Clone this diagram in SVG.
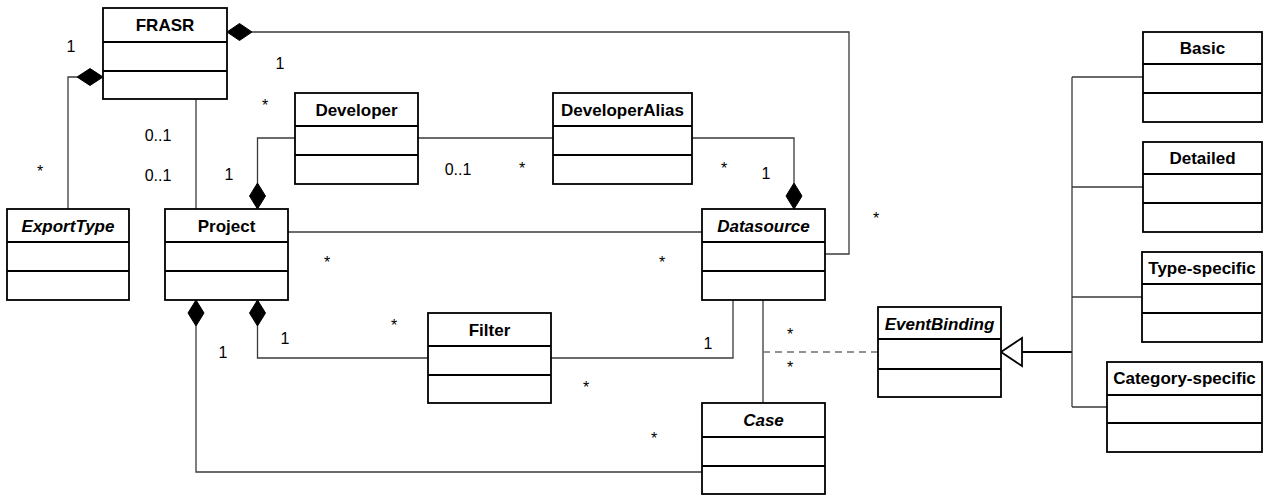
<svg xmlns="http://www.w3.org/2000/svg" width="1263" height="495" viewBox="0 0 1263 495">
<style>
.box{fill:#fff;stroke:#000;stroke-width:1.8}
.div{stroke:#000;stroke-width:1.8}
.t{font-family:"Liberation Sans",Arial,sans-serif;font-size:17px;font-weight:bold;text-anchor:middle;fill:#000}
.i{font-style:italic}
.c{fill:none;stroke:#3a3a3a;stroke-width:1.3}
.d{fill:none;stroke:#707070;stroke-width:1.5;stroke-dasharray:7,5}
.g{fill:none;stroke:#000;stroke-width:2}
.dia{fill:#000;stroke:#000;stroke-width:1}
.m{font-family:"Liberation Sans",Arial,sans-serif;font-size:16px;text-anchor:middle;fill:#000}
</style>
<rect width="1263" height="495" fill="#fff"/>
<g id="connectors">
<path class="c" d="M252,32 H849 V254 H825"/>
<path class="c" d="M77,77 H68 V209"/>
<path class="c" d="M196,99 V209"/>
<path class="c" d="M257.5,183 V138 H295"/>
<path class="c" d="M418,138 H553"/>
<path class="c" d="M692,138 H794 V183"/>
<path class="c" d="M288,232 H702"/>
<path class="c" d="M196,326 V472 H702"/>
<path class="c" d="M257.5,326 V358 H428"/>
<path class="c" d="M551,358 H733 V300"/>
<path class="c" d="M763,300 V403"/>
<path class="d" d="M763,352 H878"/>
<path class="g" d="M1022,352 H1072"/>
<path class="c" d="M1072,77 V407 M1072,77 H1143 M1072,187 H1143 M1072,297 H1142 M1072,407 H1107"/>
<polygon fill="#fff" stroke="#000" stroke-width="1.8" points="1001,352 1022,338 1022,366"/>
<polygon class="dia" points="227,32 239.5,23.5 252,32 239.5,40.5"/>
<polygon class="dia" points="103,77 90,68.5 77,77 90,85.5"/>
<polygon class="dia" points="257.5,209 249.5,196 257.5,183 265.5,196"/>
<polygon class="dia" points="794,209 786,196 794,183 802,196"/>
<polygon class="dia" points="196,300 188,313 196,326 204,313"/>
<polygon class="dia" points="257.5,300 249.5,313 257.5,326 265.5,313"/>
</g>
<g id="labels">
<text class="m" x="71" y="52">1</text>
<text class="m" x="280" y="69">1</text>
<text class="m" x="265" y="111">*</text>
<text class="m" x="158" y="141">0..1</text>
<text class="m" x="158" y="181">0..1</text>
<text class="m" x="40" y="177">*</text>
<text class="m" x="229" y="180">1</text>
<text class="m" x="458" y="175">0..1</text>
<text class="m" x="522" y="174">*</text>
<text class="m" x="724" y="174">*</text>
<text class="m" x="766" y="179">1</text>
<text class="m" x="876" y="224">*</text>
<text class="m" x="327" y="268">*</text>
<text class="m" x="662" y="268">*</text>
<text class="m" x="394" y="331">*</text>
<text class="m" x="285" y="344">1</text>
<text class="m" x="223" y="358">1</text>
<text class="m" x="708" y="349">1</text>
<text class="m" x="790" y="340">*</text>
<text class="m" x="790" y="373">*</text>
<text class="m" x="586" y="393">*</text>
<text class="m" x="654" y="444">*</text>
</g>
<g id="FRASR"><rect class="box" x="103" y="8" width="124" height="91"/><path class="div" d="M103,42 H227 M103,71 H227"/><text class="t" x="165" y="31">FRASR</text></g>
<g id="ExportType"><rect class="box" x="7" y="209" width="122" height="91"/><path class="div" d="M7,242 H129 M7,271 H129"/><text class="t i" x="68" y="232">ExportType</text></g>
<g id="Project"><rect class="box" x="165" y="209" width="123" height="91"/><path class="div" d="M165,242 H288 M165,271 H288"/><text class="t" x="226.5" y="232">Project</text></g>
<g id="Developer"><rect class="box" x="295" y="93" width="123" height="91"/><path class="div" d="M295,126 H418 M295,155 H418"/><text class="t" x="356.5" y="116">Developer</text></g>
<g id="DeveloperAlias"><rect class="box" x="553" y="93" width="139" height="91"/><path class="div" d="M553,126 H692 M553,155 H692"/><text class="t" x="622.5" y="116">DeveloperAlias</text></g>
<g id="Datasource"><rect class="box" x="702" y="209" width="123" height="91"/><path class="div" d="M702,242 H825 M702,271 H825"/><text class="t i" x="763.5" y="232">Datasource</text></g>
<g id="Filter"><rect class="box" x="428" y="313" width="123" height="90"/><path class="div" d="M428,346 H551 M428,375 H551"/><text class="t" x="489.5" y="336">Filter</text></g>
<g id="Case"><rect class="box" x="702" y="403" width="123" height="91"/><path class="div" d="M702,437 H825 M702,466 H825"/><text class="t i" x="763.5" y="426">Case</text></g>
<g id="EventBinding"><rect class="box" x="878" y="307" width="123" height="90"/><path class="div" d="M878,339 H1001 M878,369 H1001"/><text class="t i" x="939.5" y="330">EventBinding</text></g>
<g id="Basic"><rect class="box" x="1143" y="32" width="119" height="90"/><path class="div" d="M1143,64 H1262 M1143,93 H1262"/><text class="t" x="1202.5" y="54">Basic</text></g>
<g id="Detailed"><rect class="box" x="1143" y="142" width="119" height="90"/><path class="div" d="M1143,174 H1262 M1143,203 H1262"/><text class="t" x="1202.5" y="164">Detailed</text></g>
<g id="Type-specific"><rect class="box" x="1142" y="252" width="120" height="90"/><path class="div" d="M1142,284 H1262 M1142,313 H1262"/><text class="t" x="1202" y="274">Type-specific</text></g>
<g id="Category-specific"><rect class="box" x="1107" y="362" width="155" height="90"/><path class="div" d="M1107,395 H1262 M1107,423 H1262"/><text class="t" x="1184.5" y="384">Category-specific</text></g>
</svg>
